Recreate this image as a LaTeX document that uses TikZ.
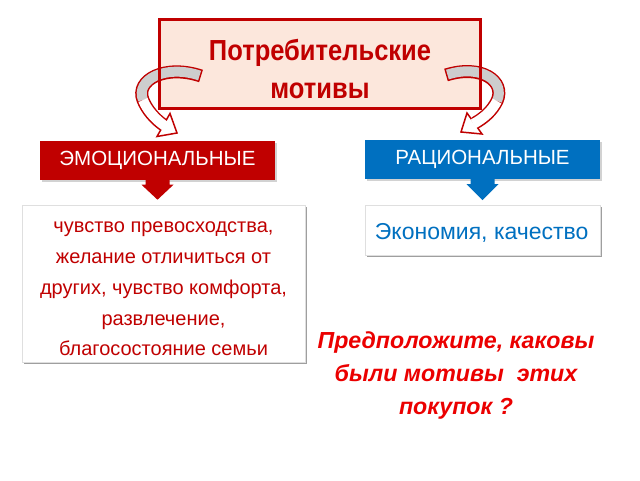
\documentclass[tikz,border=0pt]{standalone}
\usepackage{fontspec}
\setmainfont{Liberation Sans}
\newfontfamily\narrowfont{Liberation Sans}[FakeStretch=0.88]
\usetikzlibrary{shadows}
\definecolor{dred}{RGB}{192,0,0}
\definecolor{peach}{RGB}{252,231,220}
\definecolor{dblue}{RGB}{0,112,192}
\definecolor{qred}{RGB}{235,0,0}
\definecolor{bandgray}{RGB}{205,205,205}
\begin{document}
\begin{tikzpicture}[x=1pt,y=-1pt,
  titlebox/.style={fill=peach, minimum width=321pt, minimum height=89pt, inner sep=0pt},
  titletext/.style={align=center, text=dred, inner sep=0pt,
    font=\narrowfont\bfseries\fontsize{29}{38}\selectfont},
  headbox/.style={minimum width=235pt, minimum height=39pt, inner sep=0pt, text=white,
    font=\fontsize{20.5}{22}\selectfont,
    drop shadow={shadow xshift=2pt, shadow yshift=-2pt, opacity=0.35}},
  textbox/.style={fill=white, draw=gray!25, line width=0.5pt, inner sep=0pt,
    drop shadow={shadow xshift=2pt, shadow yshift=-2pt, fill=gray!75, opacity=1}},
  bandout/.style={draw=dred, line width=13pt, line cap=butt},
  bandin/.style={line width=10pt, line cap=butt},
  headshape/.style={fill=white, draw=dred, line width=1.5pt, line join=miter}
]
\fill[white] (0,0) rectangle (640,480);
\useasboundingbox (0,0) rectangle (640,480);

% title
\node[titlebox] (title) at (320,64) {};
\node[titletext] (titletxt) at (320,69) {Потребительские\\мотивы};

% header boxes
\node[headbox, fill=dred] (emo) at (157.5,160) {ЭМОЦИОНАЛЬНЫЕ};
\node[headbox, fill=dblue] (rat) at (482.5,159.5) {РАЦИОНАЛЬНЫЕ};

% curved arrows: named end points
\coordinate (ltail) at (201,76);
\coordinate (lmid) at (143,100);
\coordinate (lend) at (163.5,125);
\coordinate (rtail) at (446,75);
\coordinate (rmid) at (497,101);
\coordinate (rend) at (475,123);

% left arrow
\draw[bandout] (ltail) .. controls (165,64) and (135,80) .. (lmid)
   .. controls (147,110) and (155,119) .. (lend);
\draw[headshape] (170,113.5) -- (177,133) -- (157,136.5) -- cycle;
\draw[bandin, draw=bandgray, shorten <=1.5pt] (ltail) .. controls (165,64) and (135,80) .. (lmid);
\draw[bandin, draw=white, shorten >=-2pt] (lmid) .. controls (147,110) and (155,119) .. (lend);

% right arrow
\draw[bandout] (rtail) .. controls (481,64) and (506,81) .. (rmid)
   .. controls (492,111) and (484,118) .. (rend);
\draw[headshape] (467,113) -- (461,132) -- (482,134) -- cycle;
\draw[bandin, draw=bandgray, shorten <=1.5pt] (rtail) .. controls (481,64) and (506,81) .. (rmid);
\draw[bandin, draw=white, shorten >=-2pt] (rmid) .. controls (492,111) and (484,118) .. (rend);

% title border on top
\draw[dred, line width=3pt] (title.north west) rectangle (title.south east);

% down arrows
\fill[dred, shift={(emo.south)}] (-12,-1) -- (12,-1) -- (12,5) -- (16,5) -- (0,20) -- (-16,5) -- (-12,5) -- cycle;
\fill[dblue, shift={(rat.south)}] (-12,-1) -- (12,-1) -- (12,5) -- (16,5) -- (0,21) -- (-16,5) -- (-12,5) -- cycle;

% text boxes
\node[textbox, minimum width=283pt, minimum height=157pt] (emobox) at (163.5,283.5) {};
\node[align=center, text=dred, font=\fontsize{20}{30.75}\selectfont, inner sep=0pt]
  (emotext) at (163.5,289) {чувство превосходства,\\желание отличиться от\\других, чувство комфорта,\\развлечение,\\благосостояние семьи};

\node[textbox, minimum width=235pt, minimum height=50pt] (ratbox) at (482.5,230) {};
\node[anchor=west, text=dblue, font=\fontsize{23}{26}\selectfont, inner sep=0pt]
  (rattext) at ([xshift=10pt,yshift=-3pt]ratbox.west) {Экономия, качество};

% question
\node[align=center, text=qred, font=\bfseries\itshape\fontsize{23.2}{33}\selectfont, inner sep=0pt]
  (q) at (456,375) {Предположите, каковы\\были мотивы\ \ этих\\покупок ?};
\end{tikzpicture}
\end{document}
